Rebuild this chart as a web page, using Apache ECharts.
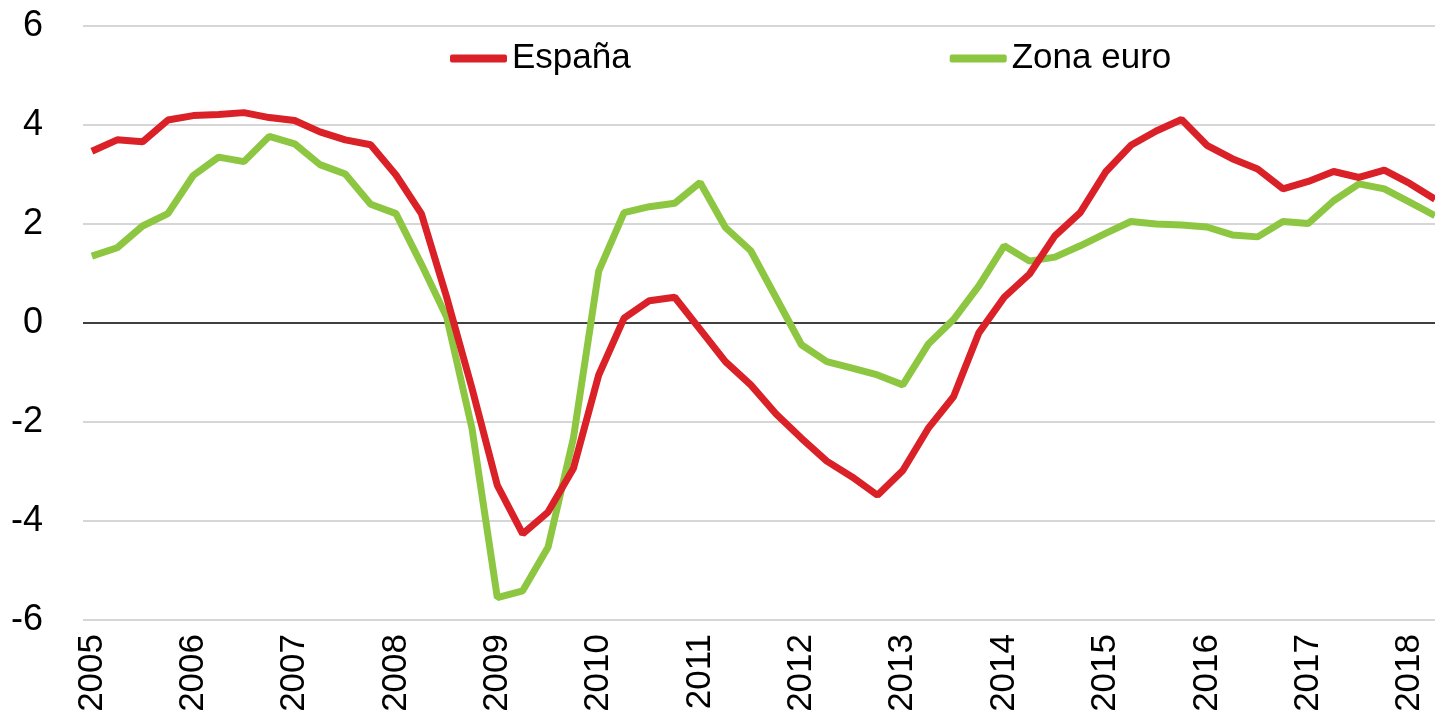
<!DOCTYPE html>
<html>
<head>
<meta charset="utf-8">
<script src="https://cdn.jsdelivr.net/npm/echarts@6/dist/echarts.min.js"></script>
<style>
    html, body {margin: 0; padding: 0; background: #fff;}
    #chart {width: 1435px; height: 713px;}
</style>
</head>
<body>
<div id="chart"></div>
<script>
// años del eje X (un punto por trimestre, 2005T1 - 2018T2)
var years = [2005, 2006, 2007, 2008, 2009, 2010, 2011, 2012, 2013, 2014, 2015, 2016, 2017, 2018];
var yTicks = [-6, -4, -2, 0, 2, 4, 6];
// España
var espana = [
    3.47, 3.70, 3.66, 4.10,
    4.19, 4.21, 4.25, 4.15,
    4.09, 3.86, 3.70, 3.60,
    2.99, 2.21, 0.52, -1.32,
    -3.28, -4.26, -3.82, -2.94,
    -1.05, 0.10, 0.45, 0.52,
    -0.13, -0.78, -1.25, -1.84,
    -2.33, -2.79, -3.11, -3.48,
    -2.98, -2.13, -1.49, -0.20,
    0.52, 0.99, 1.76, 2.23,
    3.05, 3.59, 3.88, 4.11,
    3.59, 3.32, 3.11, 2.71,
    2.86, 3.06, 2.94, 3.09,
    2.82, 2.50
];
// Zona euro
var zonaEuro = [
    1.35, 1.52, 1.96, 2.21,
    2.98, 3.35, 3.26, 3.77,
    3.62, 3.20, 3.01, 2.40,
    2.21, 1.19, 0.12, -2.13,
    -5.55, -5.41, -4.53, -2.33,
    1.05, 2.23, 2.35, 2.42,
    2.84, 1.93, 1.46, 0.51,
    -0.44, -0.78, -0.91, -1.05,
    -1.25, -0.43, 0.07, 0.75,
    1.56, 1.25, 1.33, 1.56,
    1.81, 2.05, 2.00, 1.98,
    1.94, 1.78, 1.74, 2.05,
    2.01, 2.47, 2.81, 2.71,
    2.44, 2.17
];

var font = "'Liberation Sans Narrow', 'Liberation Sans', Arial, sans-serif";
//índices de trimestre donde empieza cada año
var yearIdx = years.map(function (y, i) { return i * 4; });

function toPairs(arr) {
    return arr.map(function (v, i) { return [i, v]; });
}

var chart = echarts.init(document.getElementById('chart'));
var option = {
    backgroundColor: '#fff',
    animation: false,
    grid: {left: 83, right: 0, top: 26, bottom: 93, containLabel: false, outerBoundsMode: 'none'},
    legend: {
        left: 450,
        top: 41,
        padding: 0,
        itemGap: 319,
        itemWidth: 57,
        itemHeight: 8,
        icon: 'roundRect',
        textStyle: {fontSize: 35, fontFamily: font, color: '#000'},
        data: ['España', 'Zona euro']
    },
    xAxis: {
        type: 'value',
        min: -0.35,
        max: espana.length - 1,
        splitLine: {show: false},
        axisLine: {show: false},
        axisTick: {show: false},
        axisLabel: {
            customValues: yearIdx,
            rotate: 90,
            margin: 14,
            fontSize: 35,
            fontFamily: font,
            color: '#000',
            formatter: function (v) { return String(years[Math.round(v / 4)]); }
        }
    },
    yAxis: {
        type: 'value',
        min: yTicks[0],
        max: yTicks[yTicks.length - 1],
        interval: 2,
        axisLine: {show: false},
        axisTick: {show: false},
        axisLabel: {fontSize: 36, fontFamily: font, color: '#000', margin: 40},
        splitLine: {
            lineStyle: {
                width: 1.6,
                color: yTicks.map(function (t) { return t === 0 ? '#000' : '#c8c8c8'; })
            }
        }
    },
    series: [
        {
            name: 'España',
            type: 'line',
            data: toPairs(espana),
            symbol: 'none',
            lineStyle: {color: '#da2128', width: 7},
            itemStyle: {color: '#da2128'},
            z: 3
        },
        {
            name: 'Zona euro',
            type: 'line',
            data: toPairs(zonaEuro),
            symbol: 'none',
            lineStyle: {color: '#8dc641', width: 7},
            itemStyle: {color: '#8dc641'},
            z: 2
        }
    ]
};
chart.setOption(option);
</script>
</body>
</html>
